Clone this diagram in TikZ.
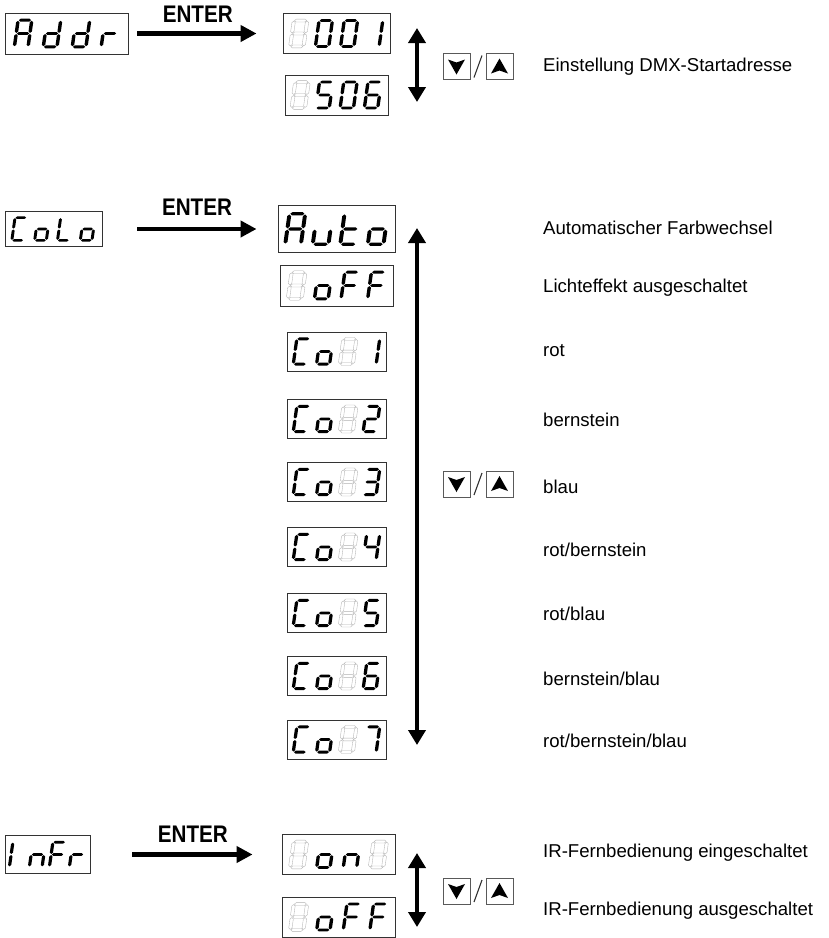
\documentclass[tikz,border=0pt]{standalone}
\usepackage{fontspec}
\setmainfont{Liberation Sans}
\newfontfamily\enterfont[FakeStretch=0.86]{Liberation Sans}
\usetikzlibrary{arrows.meta}

% the seven segments of one cell, cell is -0.5..0.5 wide, -1..1 high
\expandafter\def\csname seg:a\endcsname{(-0.36,0.9) -- (-0.26,1) -- (0.26,1) -- (0.36,0.9) -- (0.26,0.8) -- (-0.26,0.8) -- cycle}
\expandafter\def\csname seg:g\endcsname{(-0.36,0) -- (-0.26,0.1) -- (0.26,0.1) -- (0.36,0) -- (0.26,-0.1) -- (-0.26,-0.1) -- cycle}
\expandafter\def\csname seg:d\endcsname{(-0.36,-0.9) -- (-0.26,-0.8) -- (0.26,-0.8) -- (0.36,-0.9) -- (0.26,-1) -- (-0.26,-1) -- cycle}
\expandafter\def\csname seg:b\endcsname{(0.4,0.04) -- (0.5,0.14) -- (0.5,0.76) -- (0.4,0.86) -- (0.3,0.76) -- (0.3,0.14) -- cycle}
\expandafter\def\csname seg:c\endcsname{(0.4,-0.86) -- (0.5,-0.76) -- (0.5,-0.14) -- (0.4,-0.04) -- (0.3,-0.14) -- (0.3,-0.76) -- cycle}
\expandafter\def\csname seg:f\endcsname{(-0.4,0.04) -- (-0.3,0.14) -- (-0.3,0.76) -- (-0.4,0.86) -- (-0.5,0.76) -- (-0.5,0.14) -- cycle}
\expandafter\def\csname seg:e\endcsname{(-0.4,-0.86) -- (-0.3,-0.76) -- (-0.3,-0.14) -- (-0.4,-0.04) -- (-0.5,-0.14) -- (-0.5,-0.76) -- cycle}

% \glyph{char}{style}{segments}
\newcommand\glyph[3]{\expandafter\def\csname gly:#1\endcsname{%
  \foreach \s in {#3} {\expandafter\let\expandafter\segpath\csname seg:\s\endcsname
    \path[#2] \segpath;}}}
\glyph{A}{litseg}{a,b,c,e,f,g}
\glyph{d}{litseg}{b,c,d,e,g}
\glyph{r}{litseg}{e,g}
\glyph{0}{litseg}{a,b,c,d,e,f}
\glyph{1}{litseg}{b,c}
\glyph{2}{litseg}{a,b,d,e,g}
\glyph{3}{litseg}{a,b,c,d,g}
\glyph{4}{litseg}{b,c,f,g}
\glyph{5}{litseg}{a,c,d,f,g}
\glyph{6}{litseg}{a,c,d,e,f,g}
\glyph{7}{litseg}{a,b,c}
\glyph{C}{litseg}{a,d,e,f}
\glyph{o}{litseg}{c,d,e,g}
\glyph{L}{litseg}{d,e,f}
\glyph{u}{litseg}{c,d,e}
\glyph{t}{litseg}{d,e,f,g}
\glyph{F}{litseg}{a,e,f,g}
\glyph{I}{litseg}{e,f}
\glyph{n}{litseg}{c,e,g}
\glyph{X}{offseg}{a,b,c,d,e,f,g}

% \lcdpanel{name}{position}{width}{height}{four characters}
\newcommand\lcdpanel[5]{%
  \node[lcdbox, minimum width=#3pt, minimum height=#4pt] (#1) at #2 {};
  \pgfmathsetmacro\gh{0.72*#4}
  \pgfmathsetmacro\gw{0.58*\gh}
  \pgfmathsetmacro\pitch{#3/4.25}
  \foreach \c [count=\i] in {#5} {
    \begin{scope}[shift={(#1.center)}, xshift={(\i-2.5)*\pitch}, xslant=0.14,
        xscale=\gw, yscale=\gh/2, yscale=-1]
      \csname gly:\c\endcsname
    \end{scope}
  }
}

\tikzset{
  lcdbox/.style={draw=black!80, line width=0.9pt, fill=white, inner sep=0pt},
  litseg/.style={fill=black},
  offseg/.style={draw=black!30, line width=0.35pt},
  enterarrow/.style={line width=4.5pt, -{Triangle[length=16pt,width=16pt]}},
  cyclearrow/.style={line width=4.5pt, {Triangle[length=15pt,width=17pt]}-{Triangle[length=15pt,width=17pt]}},
  entertxt/.style={font=\enterfont\bfseries\fontsize{24}{26}\selectfont, inner sep=0pt},
  info/.style={font=\fontsize{18.6}{20}\selectfont, anchor=base west, inner sep=0pt},
  keyframe/.style={draw=black!65, line width=1pt},
  keys/.pic={
    \draw[keyframe] (-35,-13) rectangle (-8,13);
    \draw[keyframe] (8,-13) rectangle (35,13);
    \fill (-30,-7) -- (-21.5,-4) -- (-13,-7) -- (-21.5,8) -- cycle;
    \fill (13,7) -- (21.5,4) -- (30,7) -- (21.5,-8) -- cycle;
    \draw[black!80, line width=1.1pt] (4,-11) -- (-4,11);
  }
}

\begin{document}
\begin{tikzpicture}[x=1pt, y=-1pt]
\useasboundingbox (0,0) rectangle (829,938);

% DMX start address
\lcdpanel{addr}{(66.5,33.5)}{123}{41}{A,d,d,r}
\lcdpanel{dmxlow}{(336.5,33.5)}{107}{40}{X,0,0,1}
\lcdpanel{dmxhigh}{(336.5,95)}{103}{40}{X,5,0,6}
\draw[enterarrow, shorten <=9pt, shorten >=26pt] (addr) -- node[entertxt, pos=0.45, above=9pt] (enterA) {ENTER} (dmxlow);
\coordinate (dmxup) at (417,28);
\coordinate (dmxdown) at (417,102);
\draw[cyclearrow] (dmxup) -- (dmxdown);
\pic (keysA) at (478,66.5) {keys};
\node[info] (txtdmx) at (543,71) {Einstellung DMX-Startadresse};

% colour menu
\lcdpanel{colo}{(53.5,229)}{97}{35}{C,o,L,o}
\lcdpanel{auto}{(336.5,229)}{117}{47}{A,u,t,o}
\lcdpanel{fxoff}{(336.5,285.5)}{113}{41}{X,o,F,F}
\foreach \n/\y in {1/351.5,2/419,3/482,4/547,5/613,6/676,7/739.5}
  \lcdpanel{co\n}{(336.5,\y)}{99}{39}{C,o,X,\n};
\draw[enterarrow, shorten <=35pt, shorten >=21pt] (colo) -- node[entertxt, pos=0.54, above=11pt] (enterB) {ENTER} (auto);
\coordinate (coloup) at (417,228);
\coordinate (colodown) at (417,745);
\draw[cyclearrow] (coloup) -- (colodown);
\pic (keysB) at (478,484) {keys};
\foreach \y/\t [count=\k] in {234.5/{Automatischer Farbwechsel}, 292.5/{Lichteffekt ausgeschaltet},
    356.5/rot, 426.5/bernstein, 493.5/blau, 556.5/{rot/bernstein}, 620.5/{rot/blau},
    685.5/{bernstein/blau}, 747.5/{rot/bernstein/blau}}
  \node[info] (txtcol\k) at (543,\y) {\t};

% infrared remote
\lcdpanel{infr}{(47.5,854.5)}{85}{38}{I,n,F,r}
\lcdpanel{iron}{(338.5,854.5)}{113}{40}{X,o,n,X}
\lcdpanel{iroff}{(338.5,917)}{113}{40}{X,o,F,F}
\draw[enterarrow, shorten <=42pt, shorten >=29pt] (infr) -- node[entertxt, pos=0.536, above=10pt] (enterC) {ENTER} (iron);
\coordinate (irup) at (417,853);
\coordinate (irdown) at (417,927);
\draw[cyclearrow] (irup) -- (irdown);
\pic (keysC) at (478,891) {keys};
\node[info] (txtiron) at (543,857.5) {IR-Fernbedienung eingeschaltet};
\node[info] (txtiroff) at (543,915.5) {IR-Fernbedienung ausgeschaltet};

\end{tikzpicture}
\end{document}
